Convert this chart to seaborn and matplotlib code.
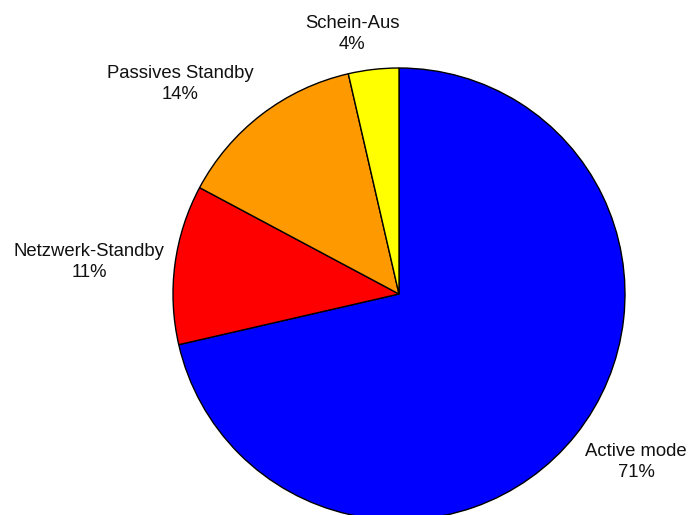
import matplotlib
matplotlib.use("Agg")
import matplotlib.pyplot as plt
import seaborn as sns

# data (shares in %)
modes = ["Active mode", "Netzwerk-Standby", "Passives Standby", "Schein-Aus"]
shares = [71.4, 11.4, 13.6, 3.6]
colors = ["#0000FF", "#FF0000", "#FF9900", "#FFFF00"]

# label block centres (pie radius = 1, centre = 0,0)
label_pos = [(1.049, -0.743), (-1.372, 0.142), (-0.969, 0.929), (-0.208, 1.150)]

sns.set_theme(style="white")
plt.rcParams['font.family'] = ['Liberation Sans', 'DejaVu Sans']

fig = plt.figure(figsize=(6.89, 5.15), dpi=100)
ax = fig.add_axes([0, 0, 1, 1])

labels = [f"{m}\n{s:.0f}%" for m, s in zip(modes, shares)]
wedges, texts = ax.pie(
    shares,
    labels=labels,
    colors=colors,
    startangle=90,
    counterclock=False,
    radius=1,
    center=(0, 0),
    wedgeprops=dict(edgecolor="black", linewidth=1),
    textprops=dict(fontsize=13.3, color="#111111", ha="center", va="center",
                   linespacing=1.3),
    frame=True,
)
for t, (x, y) in zip(texts, label_pos):
    t.set_position((x, y))
    t.set_horizontalalignment("center")
    t.set_verticalalignment("center")

ax.set_xlim((0 - 399) / 226, (689 - 399) / 226)
ax.set_ylim((294 - 515) / 226, 294 / 226)
ax.set_aspect("auto")
ax.axis("off")

fig.savefig("out.png", dpi=100)
